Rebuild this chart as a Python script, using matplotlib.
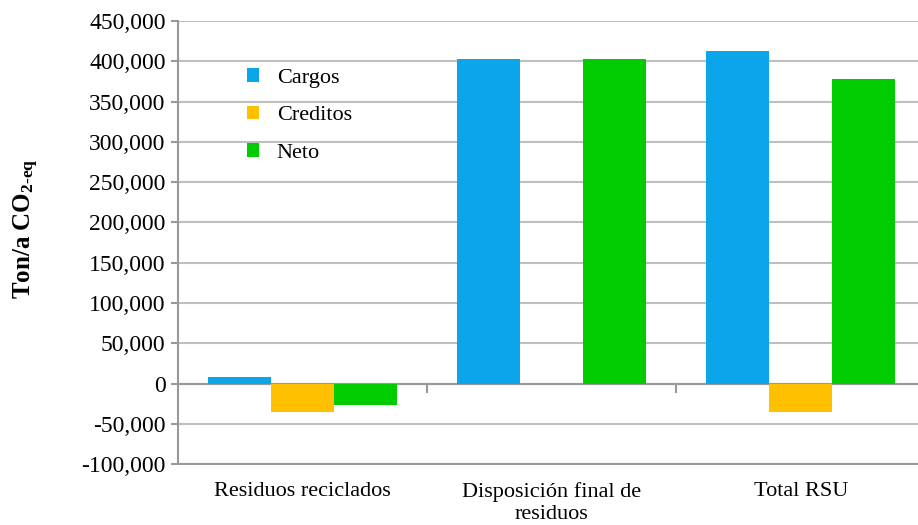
"""Emisiones de GEI por etapa de gestion de residuos."""
import matplotlib.pyplot as plt
import numpy as np
from matplotlib.ticker import FuncFormatter

categories = ["Residuos reciclados", "Disposición final de\nresiduos", "Total RSU"]
cargos = [8000, 403000, 413000]
creditos = [-35000, 0, -35000]
neto = [-27000, 403000, 378000]

series = [("Cargos", cargos, "#0ba5ea"),
          ("Creditos", creditos, "#ffc000"),
          ("Neto", neto, "#00cc00")]

SERIF = ['Liberation Serif', 'DejaVu Serif']
plt.rcParams['font.family'] = SERIF
plt.rcParams['mathtext.fontset'] = 'custom'
plt.rcParams['mathtext.rm'] = 'Liberation Serif:bold'
plt.rcParams['mathtext.bf'] = 'Liberation Serif:bold'
plt.rcParams['mathtext.default'] = 'bf'

fig = plt.figure(figsize=(9.18, 5.25), dpi=100)
ax = fig.add_axes([0.194, 0.116, 0.814, 0.844])

x = np.arange(len(categories))
width = 0.253
for i, (name, vals, color) in enumerate(series):
    ax.bar(x + (i - 1) * width, vals, width, color=color, label=name, zorder=3)

# Axes
ax.set_xlim(-0.5, len(categories) - 0.5)
ax.set_ylim(-100000, 450000)
ax.set_yticks(np.arange(-100000, 450001, 50000))
ax.yaxis.set_major_formatter(FuncFormatter(lambda v, p: f"{int(v):,}"))
ax.grid(True, axis='y', color='#bfbfbf', linewidth=1.5, zorder=0)
ax.axhline(0, color='#999999', linewidth=1.5, zorder=2)

for s in ['top', 'right']:
    ax.spines[s].set_visible(False)
ax.spines['left'].set_color('#999999')
ax.spines['left'].set_linewidth(1.5)
ax.spines['bottom'].set_color('#999999')
ax.spines['bottom'].set_linewidth(1.5)

ax.tick_params(axis='y', length=5, width=1.5, color='#999999', labelsize=17, pad=4)

ax.set_xticks(x)
ax.set_xticklabels(categories, fontsize=16, linespacing=1.2)
ax.tick_params(axis='x', length=0, pad=13)

# separators between categories hanging below the zero line
for b in x[:-1] + 0.5:
    ax.plot([b, b], [0, -11000], color='#999999', linewidth=1.5, zorder=2)

ax.set_ylabel(r"Ton/a CO$_{\mathbf{2\text{-}eq}}$", fontsize=18, fontweight='bold')
ax.yaxis.set_label_coords(-0.184, 0.53)

ax.legend(loc='upper left', bbox_to_anchor=(0.065, 0.938), frameon=False,
          fontsize=16, handlelength=0.55, handleheight=0.55,
          handletextpad=0.8, labelspacing=0.8)

plt.savefig("out.png", dpi=100)
plt.close()
